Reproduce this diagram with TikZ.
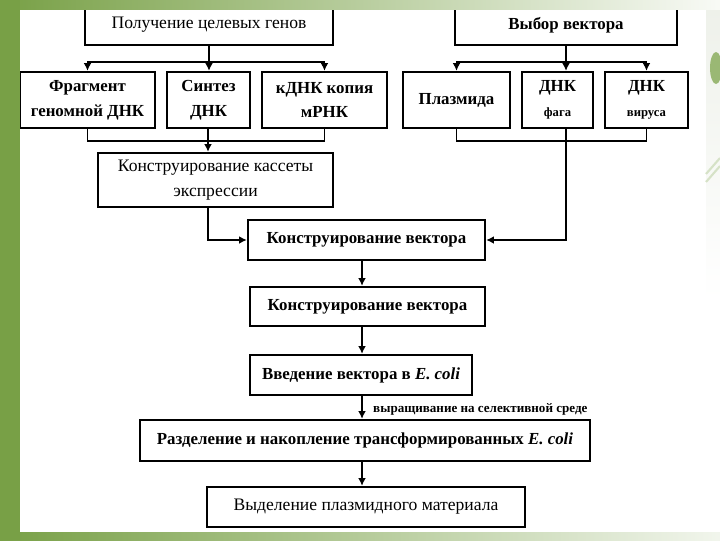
\documentclass[tikz,border=0pt]{standalone}
\usepackage{fontspec}
\setmainfont{Liberation Serif}
\usetikzlibrary{positioning,arrows.meta,calc}
\definecolor{cSlide}{HTML}{78A046}
\definecolor{cEdge}{HTML}{EEF1EA}
\tikzset{
  blok/.style={draw,line width=1.6pt,align=center,inner sep=2pt,
    font=\bfseries\fontsize{12}{17.5}\selectfont},
  blokr/.style={blok,font=\fontsize{12.5}{18}\selectfont},
  svyaz/.style={line width=1.3pt},
  strelka/.style={svyaz,-{Latex[length=5.5pt,width=5.5pt]}}
}
\begin{document}
\begin{tikzpicture}[x=0.025cm,y=-0.025cm]
  \useasboundingbox (0,0) rectangle (720,540);
  \fill[white] (0,0) rectangle (720,540);
  \shade[top color=cEdge,bottom color=white] (706,9) rectangle (720,300);
  \fill[cSlide!75] (716,68) ellipse (6 and 16);
  \draw[cSlide!30,line width=1.5pt] (706,182) -- (720,166);
  \draw[cSlide!30,line width=1.5pt] (706,174) -- (720,158);

  \node[blokr,minimum width=6.2cm,minimum height=1cm] (geny) at (209,25) {Получение целевых генов};
  \node[blok,minimum width=5.55cm,minimum height=1cm] (vybor) at (566,25) {Выбор вектора};

  \node[blok,minimum width=3.375cm,minimum height=1.4cm] (fragment) at (87.5,100) {Фрагмент\\геномной ДНК};
  \node[blok,minimum width=2.075cm,minimum height=1.4cm] (sintez) at (208.5,100) {Синтез\\ДНК};
  \node[blok,minimum width=3.125cm,minimum height=1.4cm] (kdnk) at (324.5,100) {кДНК копия\\мРНК};
  \node[blok,minimum width=2.675cm,minimum height=1.4cm] (plazmida) at (456.5,100) {Плазмида};
  \node[blok,minimum width=1.775cm,minimum height=1.4cm] (fag) at (557.5,100)
    {ДНК\\{\fontsize{9}{10}\selectfont фага}};
  \node[blok,minimum width=2.075cm,minimum height=1.4cm] (virus) at (646.5,100)
    {ДНК\\{\fontsize{9}{10}\selectfont вируса}};

  \node[blokr,minimum width=5.875cm,minimum height=1.35cm] (kasseta) at (215.5,180) {Конструирование кассеты\\экспрессии};
  \node[blok,minimum width=5.925cm,minimum height=1cm] (vektor) at (366.5,240) {Конструирование вектора};
  \node[blok,minimum width=5.875cm,minimum height=0.975cm] (vektorB) at (367.5,306.5) {Конструирование вектора};
  \node[blok,minimum width=5.55cm,minimum height=1cm] (vvedenie) at (361,375) {Введение вектора в \textit{E. coli}};
  \node[blok,minimum width=11.25cm,minimum height=1.025cm] (razdelenie) at (365,440.5)
    {Разделение и накопление трансформированных \textit{E. coli}};
  \node[blokr,minimum width=7.95cm,minimum height=1cm] (vydelenie) at (366,507) {Выделение плазмидного материала};

  \coordinate (vGeny) at (209,62);
  \coordinate (vVybor) at (566,62);
  \coordinate (nLevo) at (208,141);
  \coordinate (nPravo) at (566,141);
  \coordinate (os) at (362,0);

  \draw[svyaz] (geny) -- (vGeny);
  \draw[strelka] (vGeny) -| (fragment);
  \draw[strelka] (vGeny) -| (kdnk);
  \draw[strelka] (vGeny) -- (vGeny |- sintez.north);
  \draw[svyaz] (vybor) -- (vVybor);
  \draw[strelka] (vVybor) -| (plazmida);
  \draw[strelka] (vVybor) -| (virus);
  \draw[strelka] (vVybor) -- (vVybor |- fag.north);

  \draw[svyaz] (fragment) |- (nLevo) -| (kdnk);
  \draw[svyaz] (sintez.south -| nLevo) -- (nLevo);
  \draw[strelka] (nLevo) -- (nLevo |- kasseta.north);
  \draw[strelka] (kasseta.south -| nLevo) |- (vektor);
  \draw[svyaz] (plazmida) |- (nPravo) -| (virus);
  \draw[svyaz] (fag.south -| nPravo) -- (nPravo);
  \draw[strelka] (nPravo) |- (vektor);

  \draw[strelka] (vektor.south -| os) -- (vektorB.north -| os);
  \draw[strelka] (vektorB.south -| os) -- (vvedenie.north -| os);
  \draw[strelka] (vvedenie.south -| os) -- node[pos=0.6,right=4pt,font=\bfseries\fontsize{9.3}{10}\selectfont] (metka)
    {выращивание на селективной среде} (razdelenie.north -| os);
  \draw[strelka] (razdelenie.south -| os) -- (vydelenie.north -| os);

  \shade[left color=cSlide,right color=cSlide!5] (0,0) rectangle (720,9);
  \shade[left color=cSlide,right color=cSlide!10] (0,532) rectangle (720,540);
  \fill[cSlide] (0,0) rectangle (20,540);
\end{tikzpicture}
\end{document}
